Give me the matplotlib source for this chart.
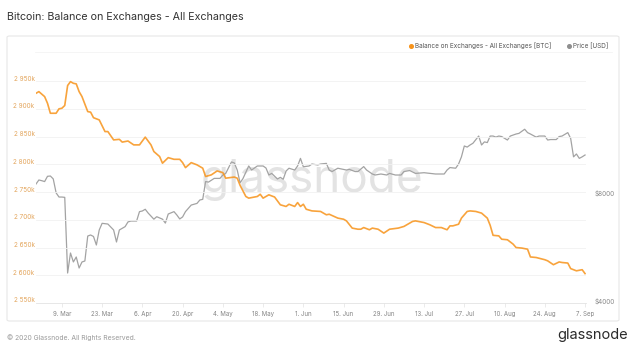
import matplotlib
matplotlib.use('Agg')
import matplotlib.pyplot as plt
import pandas as pd
from matplotlib.patches import FancyBboxPatch
from matplotlib.transforms import ScaledTranslation
from matplotlib.lines import Line2D

# ---------------- data ----------------
bal_dates = ['2020-02-29','2020-03-01','2020-03-03','2020-03-04','2020-03-05','2020-03-07','2020-03-08','2020-03-09',
             '2020-03-10','2020-03-11','2020-03-12','2020-03-13','2020-03-14','2020-03-15','2020-03-16','2020-03-18',
             '2020-03-19','2020-03-20','2020-03-22','2020-03-24','2020-03-25','2020-03-27','2020-03-29','2020-03-30',
             '2020-04-01','2020-04-03','2020-04-05','2020-04-07','2020-04-09','2020-04-10','2020-04-12','2020-04-13',
             '2020-04-15','2020-04-17','2020-04-19','2020-04-20','2020-04-21','2020-04-23','2020-04-25','2020-04-27',
             '2020-04-28','2020-04-30','2020-05-02','2020-05-04','2020-05-05','2020-05-08','2020-05-09','2020-05-10',
             '2020-05-12','2020-05-13','2020-05-16','2020-05-17','2020-05-18','2020-05-20','2020-05-22','2020-05-24',
             '2020-05-26','2020-05-27','2020-05-29','2020-05-30','2020-05-31','2020-06-01','2020-06-02','2020-06-04',
             '2020-06-07','2020-06-09','2020-06-10','2020-06-13','2020-06-15','2020-06-16','2020-06-18','2020-06-20',
             '2020-06-21','2020-06-22','2020-06-24','2020-06-25','2020-06-27','2020-06-29','2020-07-01','2020-07-04',
             '2020-07-06','2020-07-09','2020-07-10','2020-07-13','2020-07-15','2020-07-17','2020-07-19','2020-07-21',
             '2020-07-22','2020-07-23','2020-07-25','2020-07-26','2020-07-28','2020-07-29','2020-07-31','2020-08-02',
             '2020-08-04','2020-08-05','2020-08-06','2020-08-08','2020-08-09','2020-08-11','2020-08-13','2020-08-14',
             '2020-08-16','2020-08-18','2020-08-19','2020-08-21','2020-08-24','2020-08-25','2020-08-27','2020-08-29',
             '2020-08-30','2020-09-01','2020-09-02','2020-09-04','2020-09-06','2020-09-07']
bal_values = [2928,2931,2922,2910,2892,2892,2900,2901,
              2906,2942,2949,2946,2945,2931,2922,2895,
              2894,2884,2880,2859,2859,2844,2845,2840,
              2842,2835,2835,2849,2835,2823,2814,2802,
              2812,2809,2809,2803,2794,2803,2799,2793,
              2778,2781,2788,2785,2775,2777,2775,2762,
              2742,2739,2742,2746,2739,2745,2741,2727,
              2724,2728,2724,2731,2724,2728,2719,2716,
              2715,2709,2710,2703,2701,2698,2685,2683,
              2683,2686,2682,2685,2683,2676,2683,2685,
              2688,2697,2698,2695,2691,2686,2686,2682,
              2689,2689,2692,2703,2715,2716,2715,2712,
              2703,2690,2672,2671,2665,2664,2656,2650,
              2649,2647,2633,2632,2628,2626,2619,2624,
              2623,2622,2612,2608,2610,2603]

price_dates = ['2020-02-29','2020-03-01','2020-03-02','2020-03-03','2020-03-04','2020-03-05','2020-03-06','2020-03-07',
               '2020-03-08','2020-03-09','2020-03-10','2020-03-11','2020-03-12','2020-03-13','2020-03-14','2020-03-15',
               '2020-03-16','2020-03-17','2020-03-18','2020-03-19','2020-03-20','2020-03-21','2020-03-22','2020-03-23',
               '2020-03-25','2020-03-27','2020-03-28','2020-03-29','2020-03-31','2020-04-01','2020-04-02','2020-04-04',
               '2020-04-05','2020-04-06','2020-04-07','2020-04-08','2020-04-10','2020-04-11','2020-04-13','2020-04-14',
               '2020-04-15','2020-04-17','2020-04-18','2020-04-19','2020-04-20','2020-04-21','2020-04-23','2020-04-25',
               '2020-04-26','2020-04-27','2020-04-28','2020-04-29','2020-05-01','2020-05-02','2020-05-03','2020-05-04',
               '2020-05-05','2020-05-07','2020-05-08','2020-05-09','2020-05-10','2020-05-11','2020-05-13','2020-05-14',
               '2020-05-16','2020-05-18','2020-05-19','2020-05-20','2020-05-21','2020-05-23','2020-05-24','2020-05-25',
               '2020-05-26','2020-05-27','2020-05-29','2020-05-30','2020-05-31','2020-06-01','2020-06-03','2020-06-04',
               '2020-06-06','2020-06-07','2020-06-09','2020-06-10','2020-06-11','2020-06-13','2020-06-16','2020-06-17',
               '2020-06-19','2020-06-20','2020-06-22','2020-06-23','2020-06-25','2020-06-26','2020-06-28','2020-06-30',
               '2020-07-01','2020-07-03','2020-07-05','2020-07-06','2020-07-08','2020-07-10','2020-07-13','2020-07-15',
               '2020-07-17','2020-07-20','2020-07-21','2020-07-22','2020-07-24','2020-07-25','2020-07-26','2020-07-27',
               '2020-07-28','2020-07-29','2020-07-30','2020-08-01','2020-08-02','2020-08-03','2020-08-04','2020-08-05',
               '2020-08-06','2020-08-07','2020-08-08','2020-08-09','2020-08-11','2020-08-12','2020-08-14','2020-08-15',
               '2020-08-17','2020-08-18','2020-08-19','2020-08-21','2020-08-22','2020-08-24','2020-08-25','2020-08-26',
               '2020-08-28','2020-08-29','2020-08-30','2020-09-01','2020-09-02','2020-09-03','2020-09-04','2020-09-05',
               '2020-09-06','2020-09-07']
price_values = [8585,8809,8770,8720,9020,9037,8870,8110,
                7896,7896,7880,4849,5513,5205,5374,5007,
                5205,5237,6148,6189,6130,5804,6391,6670,
                6640,6391,5917,6391,6530,6730,6770,6770,
                7190,7220,7300,7127,6850,6960,6850,6680,
                7081,7190,7036,6860,6950,7190,7500,7580,
                7748,7780,8720,8690,8900,8900,8900,9095,
                9190,9890,9823,9390,8650,8890,9637,9390,
                9637,9637,9514,9095,9190,8865,8960,8850,
                9330,9500,9390,9637,10120,9590,9637,9760,
                9700,9760,9800,9390,9300,9500,9390,9430,
                9300,9300,9600,9390,9154,9095,9154,9095,
                9190,9095,9095,9300,9360,9190,9230,9190,
                9154,9154,9390,9540,9500,9760,10220,10958,
                10880,11028,11150,11680,11028,11250,11200,11680,
                11680,11600,11680,11640,11385,11680,11833,11880,
                12200,11940,11833,11600,11680,11680,11385,11420,
                11420,11640,11680,11940,11500,10220,10409,10120,
                10220,10342]

x_tick_dates = ['2020-03-09','2020-03-23','2020-04-06','2020-04-20','2020-05-04','2020-05-18','2020-06-01',
                '2020-06-15','2020-06-29','2020-07-13','2020-07-27','2020-08-10','2020-08-24','2020-09-07']
x_tick_labels = ['9. Mar','23. Mar','6. Apr','20. Apr','4. May','18. May','1. Jun',
                 '15. Jun','29. Jun','13. Jul','27. Jul','10. Aug','24. Aug','7. Sep']
y_left_ticks = [2550, 2600, 2650, 2700, 2750, 2800, 2850, 2900, 2950]
y_left_labels = ['2 550k','2 600k','2 650k','2 700k','2 750k','2 800k','2 850k','2 900k','2 950k']
y_right_ticks = [4000, 8000]
y_right_labels = ['$4000', '$8000']

title_text = 'Bitcoin: Balance on Exchanges - All Exchanges'
legend_bal = 'Balance on Exchanges - All Exchanges [BTC]'
legend_price = 'Price [USD]'

# ---------------- style ----------------
ORANGE = '#f7931a'
GRAY = '#a3a3a3'
plt.rcParams['font.family'] = ['Inter', 'DejaVu Sans']

W, H = 641, 352
fig = plt.figure(figsize=(W / 100, H / 100), dpi=100)
fig.patch.set_facecolor('white')

def fx(x):
    return x / W

def fy(y):
    return 1 - y / H

# outer card
card = FancyBboxPatch((fx(7), fy(321)), fx(619) - fx(7), fy(36) - fy(321),
                      boxstyle='round,pad=0,rounding_size=0.004', transform=fig.transFigure,
                      facecolor='white', edgecolor='#e7e7e7', linewidth=0.8, zorder=-5)
fig.patches.append(card)
fig.add_artist(Line2D([fx(35), fx(612)], [fy(52), fy(52)], transform=fig.transFigure,
                      color='#f4f4f4', lw=0.6, zorder=-4))

ax = fig.add_axes([fx(36), fy(303), fx(586) - fx(36), fy(60) - fy(303)])
ax2 = ax.twinx()
ax.set_zorder(ax2.get_zorder() + 1)
ax.patch.set_visible(False)
ax2.patch.set_visible(False)

bd = pd.to_datetime(bal_dates)
pdts = pd.to_datetime(price_dates)

ax2.plot(pdts, price_values, color=GRAY, lw=0.9, solid_joinstyle='round')
ax.plot(bd, bal_values, color=ORANGE, lw=1.2, alpha=0.85, solid_joinstyle='round')

ax.set_xlim(pd.Timestamp('2020-02-29'), pd.Timestamp('2020-09-07 08:00'))
ax.set_ylim(2550, 2988)
ax2.set_yscale('log')
ax2.set_ylim(4000, 19027)

# grid
ax.set_yticks(y_left_ticks)
ax.set_yticklabels(y_left_labels)
ax.grid(axis='y', color='#f1f1f1', lw=0.6)
ax.grid(axis='x', visible=False)
ax.tick_params(axis='y', length=0, pad=1, labelsize=4.6, labelcolor='#e3a55c')
for lab in ax.get_yticklabels():
    lab.set_transform(lab.get_transform() + ScaledTranslation(0, 3 / 100, fig.dpi_scale_trans))

ax2.yaxis.set_minor_locator(matplotlib.ticker.NullLocator())
ax2.set_yticks(y_right_ticks)
ax2.set_yticklabels(y_right_labels)
ax2.tick_params(axis='y', length=0, pad=6, labelsize=4.6, labelcolor='#8a8a8a')
for lab in ax2.get_yticklabels():
    lab.set_transform(lab.get_transform() + ScaledTranslation(0, 2.5 / 100, fig.dpi_scale_trans))

ax.set_xticks(pd.to_datetime(x_tick_dates))
ax.set_xticklabels(x_tick_labels)
ax.tick_params(axis='x', length=3, width=0.5, color='#e3e3e3', pad=3, labelsize=4.4, labelcolor='#858585')

for a in (ax, ax2):
    for s in ('top', 'left', 'right'):
        a.spines[s].set_visible(False)
ax.spines['bottom'].set_color('#e3e3e3')
ax.spines['bottom'].set_linewidth(0.6)
ax2.spines['bottom'].set_visible(False)

# watermark
fig.text(fx(312), fy(180), 'glassnode', ha='center', va='center', fontsize=33,
         color='#e3e3e3', zorder=-3)

# title
fig.text(fx(7), fy(17), title_text, ha='left', va='center', fontsize=7.7, color='#333333')

# legend
fig.add_artist(Line2D([fx(411)], [fy(46)], transform=fig.transFigure, marker='o', ms=2.6,
                      color=ORANGE, lw=0))
fig.text(fx(415), fy(46), legend_bal, ha='left', va='center', fontsize=4.6, color='#555555')
fig.add_artist(Line2D([fx(569)], [fy(46)], transform=fig.transFigure, marker='o', ms=2.6,
                      color='#8f8f8f', lw=0))
fig.text(fx(573), fy(46), legend_price, ha='left', va='center', fontsize=4.6, color='#555555')

# footer
fig.text(fx(7), fy(338), '\u00a9 2020 Glassnode. All Rights Reserved.', ha='left', va='center',
         fontsize=4.9, color='#9a9a9a')
fig.text(fx(628), fy(335), 'glassnode', ha='right', va='center', fontsize=10.5, color='#2b2b2b')

fig.savefig('out.png', dpi=100)
